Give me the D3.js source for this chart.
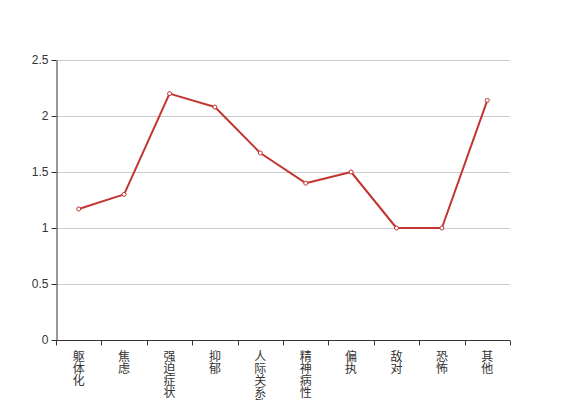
<!DOCTYPE html>
<html>
<head>
<meta charset="utf-8">
<script src="https://cdn.jsdelivr.net/npm/d3@7/dist/d3.min.js"></script>
<style>
  body { margin: 0; background: #fff; }
  svg { display: block; font-family: "Noto Sans CJK SC", sans-serif; }
</style>
</head>
<body>
<svg id="chart" width="567" height="400"></svg>
<script>
// categories and values
const categories = ["躯体化", "焦虑", "强迫症状", "抑郁", "人际关系敏感", "精神病性", "偏执", "敌对", "恐怖", "其他"];
const values = [1.17, 1.3, 2.2, 2.08, 1.67, 1.4, 1.5, 1.0, 1.0, 2.14];
const yTicks = [0, 0.5, 1, 1.5, 2, 2.5];

const svg = d3.select("#chart");
const margin = {left: 56, right: 57, top: 60, bottom: 60};
const width = 567 - margin.left - margin.right;
const height = 400 - margin.top - margin.bottom;

const x = d3.scaleBand().domain(categories).range([0, width]);
const y = d3.scaleLinear().domain([0, 2.5]).range([height, 0]);

const g = svg.append("g").attr("transform", `translate(${margin.left},${margin.top})`);

// grid lines
g.selectAll(".grid")
  .data(yTicks.filter(d => d > 0))
  .enter().append("line")
  .attr("x1", 0).attr("x2", width)
  .attr("y1", d => Math.round(y(d)) + 0.5).attr("y2", d => Math.round(y(d)) + 0.5)
  .attr("stroke", "#ccc");

// y axis
const yAxis = g.append("g")
  .attr("transform", "translate(0.5,0)")
  .call(d3.axisLeft(y).tickValues(yTicks).tickSize(5).tickSizeOuter(0).tickPadding(3).tickFormat(d3.format("")));
yAxis.select(".domain").attr("stroke", "#333");
yAxis.selectAll(".tick line").attr("stroke", "#333");
yAxis.selectAll("text").attr("fill", "#333").style("font-size", "12px").style("font-family", "'Liberation Sans', Arial, sans-serif");

// x axis
const xAxis = g.append("g").attr("transform", `translate(0,${height + 0.5})`);
xAxis.append("line").attr("x1", 0).attr("x2", width).attr("stroke", "#333");
const boundaries = categories.map(c => x(c)).concat([width]);
xAxis.selectAll(".tk")
  .data(boundaries)
  .enter().append("line")
  .attr("x1", d => Math.round(d) + 0.5).attr("x2", d => Math.round(d) + 0.5)
  .attr("y1", 0).attr("y2", 5)
  .attr("stroke", "#333");

const labels = xAxis.selectAll(".lbl")
  .data(categories)
  .enter().append("text")
  .attr("x", d => x(d) + x.bandwidth() / 2)
  .attr("y", 12)
  .attr("fill", "#333")
  .style("font-size", "12px")
  .attr("text-anchor", "middle");
labels.selectAll("tspan")
  .data(d => d.split(""))
  .enter().append("tspan")
  .attr("x", function() { return d3.select(this.parentNode).attr("x"); })
  .attr("dy", (d, i) => i === 0 ? "0.71em" : 12)
  .text(d => d);

// line
const line = d3.line()
  .x((d, i) => x(categories[i]) + x.bandwidth() / 2)
  .y(d => y(d));

g.append("path")
  .datum(values)
  .attr("d", line)
  .attr("fill", "none")
  .attr("stroke", "#c23531")
  .attr("stroke-width", 2)
  .attr("stroke-linejoin", "round");

g.selectAll(".pt")
  .data(values)
  .enter().append("circle")
  .attr("cx", (d, i) => x(categories[i]) + x.bandwidth() / 2)
  .attr("cy", d => y(d))
  .attr("r", 2)
  .attr("fill", "#fff")
  .attr("stroke", "#c23531")
  .attr("stroke-width", 1);
</script>
</body>
</html>
